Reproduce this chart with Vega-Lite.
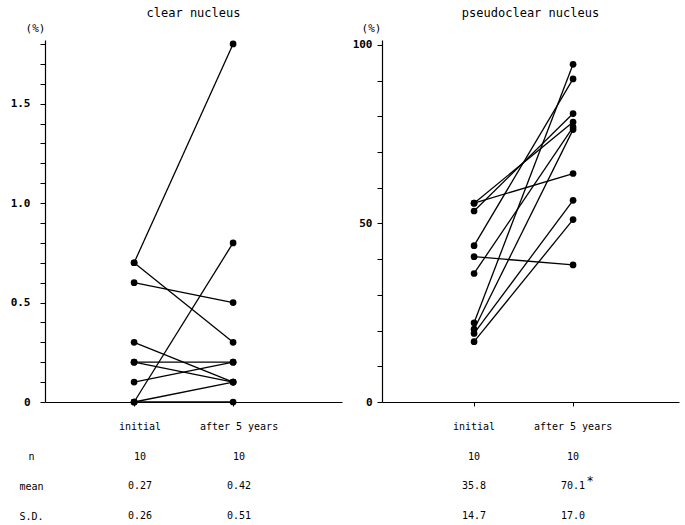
{
  "$schema": "https://vega.github.io/schema/vega-lite/v6.json",
  "background": "white",
  "padding": {"left": 10, "top": 7, "right": 5, "bottom": 0},
  "bounds": "flush",
  "spacing": {"row": 25, "column": 40},
  "columns": 2,
  "config": {
    "font": "DejaVu Sans Mono",
    "view": {"stroke": null},
    "axis": {"grid": false, "domainColor": "black", "tickColor": "black", "labelColor": "black", "titleColor": "black", "domainWidth": 1.2, "tickWidth": 1}
  },
  "datasets": {
    "clear": [
      {"id": 1, "time": "initial", "value": 0.7}, {"id": 1, "time": "after 5 years", "value": 1.8},
      {"id": 2, "time": "initial", "value": 0.7}, {"id": 2, "time": "after 5 years", "value": 0.3},
      {"id": 3, "time": "initial", "value": 0.6}, {"id": 3, "time": "after 5 years", "value": 0.5},
      {"id": 4, "time": "initial", "value": 0.3}, {"id": 4, "time": "after 5 years", "value": 0.1},
      {"id": 5, "time": "initial", "value": 0.2}, {"id": 5, "time": "after 5 years", "value": 0.2},
      {"id": 6, "time": "initial", "value": 0.2}, {"id": 6, "time": "after 5 years", "value": 0.1},
      {"id": 7, "time": "initial", "value": 0.1}, {"id": 7, "time": "after 5 years", "value": 0.2},
      {"id": 8, "time": "initial", "value": 0.0}, {"id": 8, "time": "after 5 years", "value": 0.8},
      {"id": 9, "time": "initial", "value": 0.0}, {"id": 9, "time": "after 5 years", "value": 0.1},
      {"id": 10, "time": "initial", "value": 0.0}, {"id": 10, "time": "after 5 years", "value": 0.0}
    ],
    "pseudo": [
      {"id": 1, "time": "initial", "value": 55.7}, {"id": 1, "time": "after 5 years", "value": 64.0},
      {"id": 2, "time": "initial", "value": 55.7}, {"id": 2, "time": "after 5 years", "value": 78.4},
      {"id": 3, "time": "initial", "value": 53.5}, {"id": 3, "time": "after 5 years", "value": 80.8},
      {"id": 4, "time": "initial", "value": 43.8}, {"id": 4, "time": "after 5 years", "value": 90.5},
      {"id": 5, "time": "initial", "value": 40.7}, {"id": 5, "time": "after 5 years", "value": 38.4},
      {"id": 6, "time": "initial", "value": 36.0}, {"id": 6, "time": "after 5 years", "value": 77.0},
      {"id": 7, "time": "initial", "value": 22.2}, {"id": 7, "time": "after 5 years", "value": 94.6},
      {"id": 8, "time": "initial", "value": 20.4}, {"id": 8, "time": "after 5 years", "value": 76.3},
      {"id": 9, "time": "initial", "value": 19.2}, {"id": 9, "time": "after 5 years", "value": 56.5},
      {"id": 10, "time": "initial", "value": 16.9}, {"id": 10, "time": "after 5 years", "value": 51.1}
    ],
    "tableLeft": [
      {"row": "hdr", "col": "initial", "text": "initial"},
      {"row": "hdr", "col": "after 5 years", "text": "after 5 years"},
      {"row": "n", "col": "initial", "text": "10"},
      {"row": "n", "col": "after 5 years", "text": "10"},
      {"row": "mean", "col": "initial", "text": "0.27"},
      {"row": "mean", "col": "after 5 years", "text": "0.42"},
      {"row": "S.D.", "col": "initial", "text": "0.26"},
      {"row": "S.D.", "col": "after 5 years", "text": "0.51"}
    ],
    "tableRight": [
      {"row": "hdr", "col": "initial", "text": "initial"},
      {"row": "hdr", "col": "after 5 years", "text": "after 5 years"},
      {"row": "n", "col": "initial", "text": "10"},
      {"row": "n", "col": "after 5 years", "text": "10"},
      {"row": "mean", "col": "initial", "text": "35.8"},
      {"row": "mean", "col": "after 5 years", "text": "70.1", "note": "*"},
      {"row": "S.D.", "col": "initial", "text": "14.7"},
      {"row": "S.D.", "col": "after 5 years", "text": "17.0"}
    ]
  },
  "concat": [
    {
      "width": 297, "height": 362,
      "title": {"text": "clear nucleus", "fontSize": 12, "fontWeight": "normal", "offset": 2, "font": "DejaVu Sans Mono", "color": "black"},
      "data": {"name": "clear"},
      "encoding": {
        "x": {"field": "time", "type": "nominal", "sort": ["initial", "after 5 years"],
              "scale": {"type": "point", "padding": 1.08, "align": 0.45},
              "axis": {"labels": false, "title": null, "tickSize": 4}},
        "y": {"field": "value", "type": "quantitative",
              "scale": {"domain": [0, 1.82], "nice": false, "zero": true},
              "axis": {"values": [0, 0.1, 0.2, 0.3, 0.4, 0.5, 0.6, 0.7, 0.8, 0.9, 1.0, 1.1, 1.2, 1.3, 1.4, 1.5, 1.6, 1.7, 1.8],
                       "labelExpr": "datum.value == 0 ? '0' : (abs(datum.value * 2 - round(datum.value * 2)) < 0.01 ? format(datum.value, '.1f') : '')",
                       "labelOverlap": false, "labelFontSize": 11, "labelFontWeight": "bold", "labelPadding": 10, "tickSize": 5,
                       "title": "(%)", "titleAngle": 0, "titleX": -10, "titleY": -12, "titleAlign": "center", "titleBaseline": "middle",
                       "titleFontSize": 11, "titleFontWeight": "normal"}}
      },
      "layer": [
        {"mark": {"type": "line", "color": "black", "strokeWidth": 1.3}, "encoding": {"detail": {"field": "id"}}},
        {"mark": {"type": "circle", "color": "black", "size": 45, "opacity": 1}}
      ]
    },
    {
      "width": 297, "height": 362,
      "title": {"text": "pseudoclear nucleus", "fontSize": 12, "fontWeight": "normal", "offset": 2, "font": "DejaVu Sans Mono", "color": "black"},
      "data": {"name": "pseudo"},
      "encoding": {
        "x": {"field": "time", "type": "nominal", "sort": ["initial", "after 5 years"],
              "scale": {"type": "point", "padding": 1.063, "align": 0.465},
              "axis": {"labels": false, "title": null, "tickSize": 4}},
        "y": {"field": "value", "type": "quantitative",
              "scale": {"domain": [0, 101.4], "nice": false, "zero": true},
              "axis": {"values": [0, 10, 20, 30, 40, 50, 60, 70, 80, 90, 100],
                       "labelExpr": "datum.value % 50 == 0 ? datum.label : ''",
                       "labelOverlap": false, "labelFontSize": 11, "labelFontWeight": "bold", "labelPadding": 5, "tickSize": 5,
                       "title": "(%)", "titleAngle": 0, "titleX": -11, "titleY": -12, "titleAlign": "center", "titleBaseline": "middle",
                       "titleFontSize": 11, "titleFontWeight": "normal"}}
      },
      "layer": [
        {"mark": {"type": "line", "color": "black", "strokeWidth": 1.3}, "encoding": {"detail": {"field": "id"}}},
        {"mark": {"type": "circle", "color": "black", "size": 45, "opacity": 1}}
      ]
    },
    {
      "width": 297, "height": 89,
      "data": {"name": "tableLeft"},
      "encoding": {
        "x": {"field": "col", "type": "nominal", "sort": ["initial", "after 5 years"],
              "scale": {"type": "point", "padding": 1, "align": 0.48}, "axis": null},
        "y": {"field": "row", "type": "nominal", "sort": ["hdr", "n", "mean", "S.D."],
              "scale": {"type": "point", "padding": 0},
              "axis": {"labelExpr": "datum.value == 'hdr' ? '' : datum.value", "domain": false, "ticks": false, "tickSize": 0,
                       "labelAlign": "center", "labelPadding": 14, "labelFontSize": 10, "title": null}}
      },
      "layer": [
        {"mark": {"type": "text", "fontSize": 10, "color": "black", "baseline": "middle"}, "encoding": {"text": {"field": "text"}}}
      ]
    },
    {
      "width": 297, "height": 89,
      "data": {"name": "tableRight"},
      "encoding": {
        "x": {"field": "col", "type": "nominal", "sort": ["initial", "after 5 years"],
              "scale": {"type": "point", "padding": 1.063, "align": 0.465}, "axis": null},
        "y": {"field": "row", "type": "nominal", "sort": ["hdr", "n", "mean", "S.D."],
              "scale": {"type": "point", "padding": 0}, "axis": null}
      },
      "layer": [
        {"mark": {"type": "text", "fontSize": 10, "color": "black", "baseline": "middle"}, "encoding": {"text": {"field": "text"}}},
        {"transform": [{"filter": "datum.note != null"}],
         "mark": {"type": "text", "fontSize": 12, "color": "black", "baseline": "middle", "dx": 17, "dy": -5}, "encoding": {"text": {"field": "note"}}}
      ]
    }
  ]
}
